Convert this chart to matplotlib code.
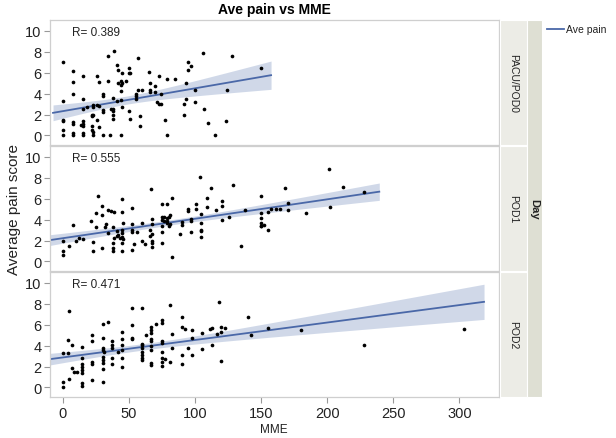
import numpy as np
import matplotlib
matplotlib.use("Agg")
import matplotlib.pyplot as plt
from matplotlib.lines import Line2D
from matplotlib.patches import Rectangle

plt.rcParams['font.family'] = ['Liberation Sans', 'DejaVu Sans']

days = ["PACU/POD0", "POD1", "POD2"]
r_labels = ["R= 0.389", "R= 0.555", "R= 0.471"]
x_ticks = [0, 50, 100, 150, 200, 250, 300]
y_ticks = [0, 2, 4, 6, 8, 10]

# PACU/POD0
mme0 = [0, 0, 0, 0, 0, 0,
        7.3, 7.3, 7.3, 7.3, 7.3, 7.3, 7.3,
        15, 15, 15, 15, 15, 15, 15, 15,
        14, 18,
        21.7, 21.7, 21.7, 21.7,
        23, 23, 23, 23, 23,
        26, 26, 26,
        27.5, 27.5, 27.5,
        30, 30, 30, 30, 30,
        34, 34, 35.6, 36.6,
        38, 38, 38, 38, 38,
        39, 41, 41, 42, 42,
        44, 44, 44, 44, 44,
        45, 45, 45, 48, 50, 50, 50, 51, 51,
        55, 55, 55, 57, 57, 58, 58, 60, 65, 66, 66, 66,
        70, 70, 71.5, 73, 73, 74.5, 74.5, 77, 79, 79, 84.6,
        91.7, 91.7, 93, 93, 95, 95, 96.7, 99.7, 99.7,
        105.8, 107, 110, 115, 123.5, 124, 128, 150]
pain0 = [7.0, 3.3, 1.5, 1.4, 0.5, 0,
         6.2, 5.1, 4.0, 1.3, 1.1, 0.2, 0,
         5.7, 3.5, 2.5, 1.4, 1.1, 0.9, 0.2, 0,
         1.0, 2.7,
         2.0, 1.9, 0.9, 0.5,
         2.9, 2.7, 2.0, 0.3, 0,
         5.7, 2.9, 1.5,
         5.1, 2.8, 0.8,
         4.0, 3.8, 2.4, 2.2, 0,
         7.6, 5.2, 0, 2.5,
         3.6, 2.5, 2.35, 2.0, 1.6,
         8.05, 6.7, 3.3, 6.3, 5.05,
         5.2, 4.8, 4.3, 3.4, 0,
         6.0, 5.0, 2.7, 5.25, 6.5, 6.0, 2.35, 6.0, 1.6,
         4.0, 3.8, 3.5, 7.4, 4.35, 1.9, 0.9, 4.35, 6.1, 5.05, 4.35, 4.15,
         4.7, 4.15, 3.2, 5.65, 3.05, 4.0, 3.05, 1.5, 5.4, 0, 5.4,
         3.05, 2.0, 5.0, 3.5, 7.0, 6.3, 6.6, 4.35, 3.2,
         7.9, 2.5, 1.2, 0, 1.4, 4.35, 7.65, 6.45]

# POD1
mme1 = [0, 0, 0, 4.8, 7.3, 9.8, 12.4, 15, 21, 22.5, 22.5, 25, 25, 26.5,
        29.5, 29.5, 29.5, 31.5, 32.6, 34, 34, 36.6,
        37.6, 37.6, 37.6, 37.6, 38.6, 38.6, 40.7, 40.7, 42, 43,
        44.7, 44.7, 44.7, 44.7, 44.7, 44.7, 44.7, 45.7, 45.7,
        52, 52, 52, 52, 52, 54, 56, 60, 60, 62.4, 66, 66, 67,
        67.4, 67.4, 67.4, 67.4, 67.4, 67.4,
        75, 75, 75, 75, 75, 75, 76.5, 76.5,
        78.5, 78.5, 78.5, 78.5, 80, 80, 81, 81, 82.6, 82.6,
        88.6, 90, 90, 94.7, 94.7, 97, 97, 97, 101, 101, 103.8,
        104.8, 104.8, 104.8, 104.8, 104.8, 109, 109, 112, 116,
        120, 120, 120, 126, 129, 135, 137.6,
        149.7, 149.7, 149.7, 149.7, 149.7, 149.7, 151.8, 155.3, 155.3,
        157.3, 160.9, 164, 168.4, 170, 170, 183.6, 201, 201.8, 212, 228]
pain1 = [2.0, 1.0, 0.6, 1.45, 3.5, 2.0, 2.25, 2.1, 3.85, 1.9, 1.0, 4.65, 3.3, 6.25,
         5.35, 4.45, 1.3, 3.25, 3.6, 4.95, 2.7, 4.85,
         3.25, 1.8, 1.25, 1.0, 4.7, 2.25, 2.9, 2.45, 2.55, 2.25,
         6.0, 4.7, 3.0, 2.7, 2.3, 1.75, 0.95, 3.7, 2.15,
         5.1, 3.6, 3.0, 2.8, 1.1, 1.65, 2.85, 3.7, 1.95, 1.65, 3.0, 2.45, 6.95,
         4.05, 3.6, 2.6, 2.0, 1.75, 1.4,
         5.45, 4.3, 4.0, 3.35, 2.8, 1.8, 4.3, 3.85,
         5.5, 4.15, 3.9, 3.65, 4.3, 3.35, 4.4, 3.6, 6.1, 0.4,
         2.6, 3.75, 3.5, 4.85, 5.0, 4.05, 3.85, 2.85, 5.45, 5.0, 8.05,
         4.55, 3.65, 3.05, 2.9, 2.35, 6.1, 5.2, 7.05, 4.9,
         5.75, 5.35, 4.0, 4.3, 7.35, 1.5, 4.95,
         6.25, 4.6, 4.15, 3.65, 3.4, 3.35, 3.5, 4.7, 3.05,
         5.0, 5.0, 5.0, 7.05, 5.55, 4.9, 4.6, 8.85, 5.2, 7.15, 6.6]

# POD2
mme2 = [0, 0, 0, 3.5, 3.5, 4.5, 4.5, 7, 7, 8.6, 10.6,
        14.6, 14.6, 14.6, 14.6, 14.6, 14.6, 14.6, 14.6,
        22, 22, 22, 22, 22,
        30, 30, 30, 30, 30, 30, 30, 30, 30, 31, 34,
        37.4, 37.4, 37.4, 37.4, 37.4, 42,
        44.5, 44.5, 44.5, 44.5, 44.5, 44.5,
        52, 52, 52, 52,
        59.6, 59.6, 59.6, 59.6, 59.6, 59.6, 59.6, 59.6, 63,
        67, 67, 67, 67, 67, 67, 67, 67, 67, 70.7,
        74.7, 74.7, 74.7, 74.7, 74.7, 74.7, 74.7, 74.7, 77,
        80.8, 80.8, 82.3, 82.3, 90, 90, 90, 90, 92, 95,
        97.5, 97.5, 97.5, 105, 105, 111, 112.6, 113, 116.7, 118,
        119.7, 119.7, 119.7, 122.7, 140, 142.4, 155, 179.8, 227.8, 303.5]
pain2 = [3.3, 0.55, 0.05, 4.55, 3.25, 7.3, 0.8, 4.05, 1.9, 1.5, 1.45,
         3.9, 2.8, 2.2, 2.0, 1.65, 1.35, 0.4, 0.15,
         5.0, 4.45, 2.45, 2.25, 0.7,
         6.05, 4.75, 3.8, 3.6, 2.95, 2.6, 2.35, 1.8, 0.55, 3.4, 6.3,
         4.45, 4.05, 3.75, 2.8, 2.2, 3.4,
         5.35, 4.65, 4.1, 3.6, 2.8, 2.0,
         7.6, 6.0, 4.75, 4.65,
         7.6, 4.2, 4.05, 3.75, 3.4, 3.1, 2.8, 2.6, 5.0,
         5.8, 5.5, 5.2, 4.65, 4.4, 4.0, 3.6, 2.3, 2.15, 6.05,
         6.45, 6.15, 4.45, 4.3, 3.35, 2.85, 2.4, 2.05, 2.7,
         7.9, 2.45, 5.1, 3.8, 6.7, 5.8, 3.1, 2.2, 5.6, 3.8,
         5.5, 4.7, 3.15, 5.2, 3.65, 5.6, 5.65, 4.05, 5.1, 8.2,
         5.8, 5.35, 2.55, 5.65, 6.7, 5.0, 5.65, 5.5, 4.05, 5.55]

mme_all = [mme0, mme1, mme2]
pain_all = [pain0, pain1, pain2]

W, H = 616, 439
fig = plt.figure(figsize=(W / 100, H / 100), dpi=100)


def fx(px):
    return px / W


def fy(py):
    return 1 - py / H


ax_left, ax_right = 50, 499
tops = [21, 147, 273]
ph = 124.5
line_color = '#4a68a8'
band_color = '#c8d2e5'

for i in range(3):
    x = np.asarray(mme_all[i], float)
    y = np.asarray(pain_all[i], float)
    top = tops[i]
    ax = fig.add_axes([fx(ax_left), fy(top + ph), (ax_right - ax_left) / W, ph / H])
    ax.set_xlim(-9.8, 330)
    ax.set_ylim(-0.87, 11.05)

    # regression with 95% CI
    n = len(x)
    b, a = np.polyfit(x, y, 1)
    resid = y - (a + b * x)
    s = np.sqrt(np.sum(resid ** 2) / (n - 2))
    sxx = np.sum((x - x.mean()) ** 2)
    rng = x.max() - x.min()
    xs = np.linspace(x.min() - 0.05 * rng, x.max() + 0.05 * rng, 200)
    yh = a + b * xs
    se = s * np.sqrt(1 / n + (xs - x.mean()) ** 2 / sxx)
    ax.fill_between(xs, yh - 1.98 * se, yh + 1.98 * se, color=band_color,
                    alpha=0.85, lw=0, zorder=1)
    ax.plot(xs, yh, color=line_color, lw=1.3, zorder=2)
    ax.scatter(x, y, s=7, color='black', zorder=3, linewidths=0)

    ax.text(0.049, 0.905, r_labels[i], transform=ax.transAxes, fontsize=8.5,
            ha='left', va='center', color='#222222')

    for sp in ax.spines.values():
        sp.set_color('#cfcfcf')
        sp.set_linewidth(0.9)
    ax.set_yticks(y_ticks)
    ax.tick_params(axis='y', length=4, width=0.8, color='#999999',
                   labelsize=10.5, labelcolor='#222222', pad=2)
    if i == 2:
        ax.set_xticks(x_ticks)
        ax.tick_params(axis='x', length=4, width=0.8, color='#999999',
                       labelsize=10.5, labelcolor='#222222', pad=3)
    else:
        ax.set_xticks([])

    # facet strip
    fig.patches.append(Rectangle((fx(499.5), fy(top + ph)), 27 / W, ph / H,
                                 transform=fig.transFigure, facecolor='#ececE6',
                                 edgecolor='white', lw=0.8, zorder=0))
    fig.text(fx(513), fy(top + ph / 2), days[i], rotation=-90, fontsize=7.5,
             ha='center', va='center', color='#222222')

# outer "Day" strip
fig.patches.append(Rectangle((fx(527), fy(398)), 15 / W, (398 - 21) / H,
                             transform=fig.transFigure, facecolor='#dedfd3',
                             edgecolor='white', lw=0.8, zorder=0))
fig.text(fx(534.5), fy(209.5), "Day", rotation=-90, fontsize=8,
         fontweight='bold', ha='center', va='center', color='#222222')

# legend
fig.lines.append(Line2D([fx(547), fx(564)], [fy(30), fy(30)],
                        transform=fig.transFigure, color=line_color, lw=1.3))
fig.text(fx(566.5), fy(30), "Ave pain", fontsize=7.5, ha='left', va='center',
         color='#222222')

fig.text(fx(274.5), fy(10), "Ave pain vs MME", fontsize=10, fontweight='bold',
         ha='center', va='center')
fig.text(fx(14), fy(209.5), "Average pain score", rotation=90, fontsize=11,
         ha='center', va='center', color='#222222')
fig.text(fx(274), fy(430), "MME", fontsize=8.5, ha='center', va='center',
         color='#222222')

fig.savefig("out.png", dpi=100)
